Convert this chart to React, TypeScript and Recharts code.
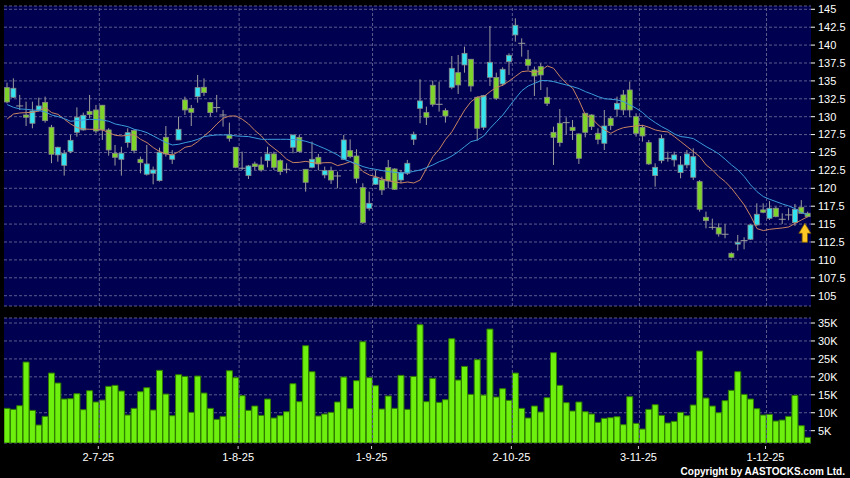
import React from 'react';
import {
  ComposedChart,
  Bar,
  Line,
  XAxis,
  YAxis,
  CartesianGrid,
  ReferenceLine,
  ReferenceDot,
} from 'recharts';

const FONT = '"Liberation Sans", Arial, sans-serif';

// Trading-day index of first session of each labelled month
const monthStartIdx = [15, 37, 58, 80, 100, 120];
const monthLabels = ['2-7-25', '1-8-25', '1-9-25', '2-10-25', '3-11-25', '1-12-25'];

const priceTicks = [105, 107.5, 110, 112.5, 115, 117.5, 120, 122.5, 125, 127.5, 130, 132.5, 135, 137.5, 140, 142.5, 145];
const volTicks = [5, 10, 15, 20, 25, 30, 35];

const openP = [
  134.06, 132.71, 131.5, 130.24, 129.08, 130.94, 132.0, 128.52, 124.66, 123.21,
  125.12, 127.82, 128.15, 130.75, 130.94, 131.6, 128.15, 124.89, 124.05, 126.38,
  128.06, 124.05, 121.96, 122.1, 121.07, 127.12, 124.05, 126.75, 132.34, 131.17,
  132.8, 134.11, 132.0, 131.27, 130.24, 127.45, 125.73, 122.8, 121.77, 123.4,
  123.26, 123.86, 124.8, 123.86, 122.65, 125.73, 127.12, 122.65, 122.93, 124.33,
  121.86, 122.47, 121.72, 124.05, 125.26, 124.51, 120.09, 117.21, 120.56, 121.16,
  122.89, 122.7, 121.16, 122.1, 126.84, 131.17, 130.57, 134.39, 131.73, 130.85,
  134.11, 136.15, 137.23, 138.02, 132.71, 128.52, 135.5, 135.46, 134.57, 137.69,
  141.42, 140.25, 138.02, 136.53, 136.99, 132.71, 127.82, 129.08, 129.17, 128.52,
  127.59, 130.48, 130.24, 127.68, 126.29, 129.78, 131.03, 133.04, 133.73, 130.01,
  128.52, 126.38, 121.77, 123.86, 124.19, 123.96, 122.19, 123.26, 121.54, 120.93,
  115.95, 114.55, 114.5, 113.58, 110.92, 112.2, 112.69, 112.88, 114.88, 116.98,
  115.81, 117.21, 115.67, 116.28, 115.2, 117.35, 116.51,
];
const closeP = [
  132.06, 133.97, 131.5, 129.92, 130.8, 131.5, 129.45, 124.75, 125.73, 124.89,
  126.7, 129.92, 130.2, 130.29, 128.0, 128.15, 125.35, 124.33, 124.89, 127.77,
  125.26, 123.58, 123.4, 122.56, 125.03, 124.8, 124.66, 128.24, 130.94, 130.61,
  134.06, 133.36, 130.57, 131.27, 130.24, 126.98, 122.93, 122.8, 123.12, 123.03,
  122.56, 124.8, 122.93, 122.33, 122.65, 127.45, 125.12, 120.84, 124.05, 123.4,
  122.47, 121.16, 121.72, 126.75, 124.42, 121.4, 115.2, 117.9, 121.49, 119.77,
  121.02, 119.86, 122.23, 123.49, 127.54, 132.2, 129.92, 131.73, 131.73, 130.1,
  136.76, 134.43, 138.85, 134.29, 128.38, 132.94, 137.6, 132.57, 136.62, 138.58,
  142.77, 140.25, 137.18, 135.69, 135.83, 131.87, 127.12, 126.38, 129.17, 128.06,
  124.19, 127.82, 128.61, 126.84, 128.7, 128.75, 131.87, 130.94, 130.94, 127.68,
  127.31, 123.4, 122.93, 126.98, 124.19, 124.66, 123.26, 124.8, 124.42, 117.07,
  115.48, 114.55, 113.62, 113.58, 110.36, 112.45, 112.69, 114.88, 116.37, 116.65,
  117.21, 116.04, 115.67, 116.28, 117.07, 116.51, 116.04,
];
const highP = [
  134.76, 135.36, 133.04, 132.1, 132.1, 132.66, 132.8, 128.85, 125.8, 125.35,
  127.45, 131.3, 130.57, 133.04, 131.64, 131.64, 128.4, 126.05, 125.8, 128.38,
  128.24, 124.42, 126.05, 123.03, 125.68, 128.7, 125.35, 130.01, 132.8, 131.64,
  135.83, 135.36, 132.0, 133.04, 130.94, 129.17, 125.73, 125.12, 123.26, 123.72,
  124.42, 125.8, 125.12, 124.05, 123.49, 127.45, 127.45, 122.65, 126.52, 124.8,
  123.03, 123.03, 122.33, 127.45, 126.84, 125.45, 120.7, 119.53, 122.47, 121.63,
  123.96, 122.8, 122.56, 123.96, 127.91, 135.22, 131.4, 135.04, 134.9, 131.17,
  138.48, 138.62, 139.79, 138.02, 132.8, 133.04, 142.67, 136.15, 136.9, 138.85,
  143.74, 140.95, 139.32, 136.99, 137.46, 134.11, 128.61, 131.08, 129.92, 129.54,
  127.68, 130.48, 130.34, 128.38, 130.94, 130.01, 132.8, 133.73, 134.9, 130.48,
  128.85, 126.75, 123.49, 127.45, 125.12, 125.12, 124.51, 125.35, 125.59, 121.16,
  116.74, 115.76, 115.11, 115.02, 111.06, 113.48, 113.16, 115.02, 117.9, 117.9,
  118.21, 117.44, 116.51, 117.21, 117.81, 118.35, 116.74,
];
const lowP = [
  131.87, 132.6, 130.94, 128.7, 128.38, 130.7, 129.17, 123.5, 123.72, 121.77,
  124.9, 127.2, 128.05, 129.78, 127.68, 126.75, 124.56, 123.17, 121.77, 125.68,
  124.89, 122.1, 121.77, 120.56, 120.93, 124.42, 123.4, 126.75, 130.24, 128.7,
  131.96, 132.9, 130.01, 130.61, 128.61, 126.52, 122.8, 122.56, 121.3, 122.56,
  122.33, 122.93, 122.56, 121.86, 122.1, 124.89, 125.0, 119.53, 122.8, 122.51,
  121.4, 120.6, 120.0, 123.96, 124.19, 120.7, 115.02, 116.88, 120.47, 119.07,
  120.0, 119.77, 120.7, 121.86, 126.05, 129.08, 128.84, 131.4, 130.71, 129.17,
  133.83, 133.17, 136.15, 133.5, 126.66, 128.15, 134.29, 132.34, 134.29, 135.83,
  140.48, 138.39, 136.53, 132.9, 133.73, 131.5, 123.26, 125.82, 127.45, 126.75,
  123.4, 127.12, 128.15, 126.15, 125.35, 128.15, 130.01, 130.24, 129.92, 127.21,
  126.52, 123.26, 120.23, 123.49, 123.72, 123.03, 121.4, 122.8, 121.16, 116.74,
  114.41, 114.22, 113.25, 113.02, 110.22, 111.29, 111.48, 112.78, 114.74, 116.51,
  115.58, 115.95, 115.02, 115.53, 114.74, 116.42, 115.95,
];
const volK = [
  11.22, 10.94, 11.96, 24.13, 10.66, 6.58, 8.99, 21.06, 18.28, 13.82,
  13.91, 15.31, 10.85, 16.14, 12.99, 13.54, 17.35, 17.63, 16.05, 9.36,
  11.22, 15.86, 16.98, 10.76, 21.81, 15.21, 9.18, 20.6, 20.13, 10.11,
  20.23, 15.49, 11.22, 8.16, 8.99, 21.71, 19.76, 14.75, 10.66, 11.87,
  9.27, 13.82, 8.53, 9.18, 10.29, 18.09, 13.08, 28.68, 21.43, 9.09,
  9.64, 10.11, 12.99, 19.95, 11.13, 18.93, 29.79, 19.76, 17.53, 11.04,
  14.66, 11.22, 20.41, 10.94, 20.13, 34.53, 13.08, 19.58, 12.89, 13.64,
  30.63, 19.11, 22.92, 15.12, 24.78, 14.93, 33.32, 14.38, 16.7, 13.45,
  21.06, 11.22, 8.53, 11.87, 10.2, 14.19, 26.73, 17.63, 12.8, 10.48,
  12.99, 10.29, 9.64, 7.32, 8.44, 8.62, 8.9, 6.67, 14.47, 7.04,
  5.46, 10.94, 12.24, 9.27, 7.14, 7.6, 10.11, 9.18, 12.15, 27.19,
  14.1, 11.87, 10.01, 13.36, 16.24, 21.43, 15.12, 13.82, 11.13, 9.36,
  9.55, 7.69, 7.97, 8.99, 14.84, 6.39, 3.14,
];
const maShort = [
  129.68, 130.38, 130.52, 130.57, 130.61, 130.8, 131.27, 130.57, 130.33, 129.64,
  128.98, 128.47, 128.29, 128.24, 128.24, 128.15, 127.77, 127.4, 127.31, 127.4,
  127.5, 126.84, 126.38, 125.68, 125.12, 124.8, 124.66, 125.12, 125.73, 125.91,
  126.52, 127.31, 128.06, 128.98, 129.78, 130.1, 130.1, 129.64, 128.98, 128.06,
  127.31, 126.29, 125.59, 124.89, 124.05, 123.58, 123.63, 123.77, 123.58, 123.49,
  123.58, 123.58, 123.17, 123.4, 123.72, 123.26, 122.33, 121.86, 121.63, 121.3,
  121.07, 120.88, 120.74, 120.88, 120.74, 121.16, 122.79, 124.42, 125.45, 126.84,
  127.91, 129.45, 130.94, 132.1, 132.76, 132.8, 133.5, 134.11, 134.39, 134.99,
  135.64, 136.29, 136.39, 136.15, 136.43, 137.09, 136.76, 135.6, 134.66, 133.97,
  132.24, 130.24, 129.78, 128.85, 128.15, 127.68, 128.15, 128.47, 128.61, 128.71,
  128.8, 128.52, 128.15, 127.96, 127.87, 127.22, 126.52, 125.82, 125.12, 124.42,
  123.26, 122.56, 121.63, 120.93, 120.0, 118.84, 117.67, 116.14, 114.37, 114.09,
  114.27, 114.37, 114.46, 114.6, 115.11, 115.58, 116.04,
];
const maLong = [
  131.69, 131.31, 131.08, 131.03, 130.94, 130.85, 130.66, 130.24, 130.01, 129.73,
  129.36, 129.45, 129.54, 129.64, 129.59, 129.54, 129.36, 128.98, 128.8, 128.61,
  128.24, 128.06, 127.77, 127.31, 126.84, 126.38, 126.05, 126.15, 126.38, 126.56,
  126.84, 127.22, 127.36, 127.45, 127.45, 127.45, 127.31, 127.26, 127.22, 127.03,
  126.84, 126.84, 126.84, 126.84, 126.84, 126.8, 126.75, 126.56, 126.29, 125.91,
  125.54, 125.12, 124.66, 124.05, 123.72, 123.4, 123.03, 122.79, 122.65, 122.47,
  122.33, 122.23, 122.14, 122.19, 122.37, 122.56, 122.89, 123.26, 123.72, 124.05,
  124.52, 125.12, 125.82, 126.52, 126.75, 127.31, 128.38, 129.31, 130.24, 131.41,
  132.57, 133.64, 134.29, 134.66, 135.04, 135.04, 134.9, 134.66, 134.43, 134.2,
  133.92, 133.5, 133.17, 132.8, 132.52, 132.43, 132.34, 132.1, 131.64, 131.17,
  130.57, 129.78, 129.17, 128.61, 128.15, 127.59, 127.22, 127.12, 126.94, 126.38,
  125.82, 125.35, 124.8, 124.05, 123.26, 122.56, 121.63, 120.47, 119.53, 118.84,
  118.46, 118.14, 117.81, 117.53, 117.16, 116.6, 116.28,
];

const N = openP.length;
const lastIdx = N - 1;
const gridX = monthStartIdx.map((v) => v - 0.5);

const data = openP.map((o, i) => ({
  i,
  open: o,
  close: closeP[i],
  high: highP[i],
  low: lowP[i],
  range: [lowP[i], highP[i]],
  vol: volK[i],
  maShort: maShort[i],
  maLong: maLong[i],
}));

const BG = '#000050';
const GRID = '#5c5c8e';
const UP = '#33E4F0';
const DOWN = '#7ED42A';
const WICK = '#9c9c9c';

const Candle = (props: any) => {
  const { x, y, width, height, payload } = props;
  if (x == null || y == null || !payload) return null;
  const { open, close, high, low } = payload;
  const cx = x + width / 2;
  const yTop = Math.min(y, y + height);
  const yBot = Math.max(y, y + height);
  const toY = (v: number) =>
    high === low ? yTop : yTop + ((high - v) / (high - low)) * (yBot - yTop);
  const yO = toY(open);
  const yC = toY(close);
  const bTop = Math.min(yO, yC);
  const bBot = Math.max(yO, yC);
  const isDoji = Math.abs(close - open) < 0.001;
  return (
    <g>
      <line x1={cx} x2={cx} y1={yTop} y2={yBot} stroke={WICK} strokeWidth={1} />
      {isDoji ? (
        <line x1={cx - 3.5} x2={cx + 3.5} y1={bTop} y2={bTop} stroke={WICK} strokeWidth={1} />
      ) : (
        <rect
          x={cx - 2.5}
          y={bTop}
          width={5}
          height={Math.max(1, bBot - bTop)}
          fill={close > open ? UP : DOWN}
          stroke="#8a8a8a"
          strokeWidth={0.8}
        />
      )}
    </g>
  );
};

const Arrow = (p: any) => {
  const { cx, cy } = p;
  if (cx == null || cy == null) return null;
  const ax = cx - 3;
  const t = cy + 6;
  const pts = [
    [ax, t],
    [ax + 6, t + 10],
    [ax + 2.7, t + 10],
    [ax + 2.7, t + 19],
    [ax - 2.7, t + 19],
    [ax - 2.7, t + 10],
    [ax - 6, t + 10],
  ]
    .map((q) => q.join(','))
    .join(' ');
  return <polygon points={pts} fill="#FFC825" stroke="#7a5a00" strokeWidth={0.8} />;
};

const XTick = (props: any) => {
  const { x, y, payload } = props;
  const k = gridX.indexOf(payload.value);
  const label = k >= 0 ? monthLabels[k] : '';
  return (
    <g>
      <line x1={x - 1} x2={x - 1} y1={y + 3} y2={y + 6} stroke="#cccccc" strokeWidth={1} />
      <text x={x - 1} y={y + 18} textAnchor="middle" fill="#ffffff" fontSize={11} fontFamily={FONT}>
        {label}
      </text>
    </g>
  );
};

const yTickStyle = { fill: '#ffffff', fontSize: 11, fontFamily: FONT };

export default function App() {
  return (
    <div
      style={{
        position: 'fixed',
        left: 0,
        top: 0,
        width: 850,
        height: 478,
        background: '#000000',
        overflow: 'hidden',
      }}
    >
      <div style={{ position: 'absolute', left: 0, top: 0 }}>
        <ComposedChart width={850} height={310} data={data} margin={{ top: 6, right: 0, bottom: 4, left: 4 }}>
          <CartesianGrid vertical={false} stroke={GRID} strokeDasharray="3 2" fill={BG} fillOpacity={1} />
          <XAxis type="number" dataKey="i" domain={[-0.5, N - 0.5]} hide allowDataOverflow />
          <YAxis
            orientation="right"
            domain={[103.56, 145.46]}
            ticks={priceTicks}
            interval={0}
            allowDataOverflow
            width={39}
            axisLine={false}
            tickLine={{ stroke: '#ffffff' }}
            tickSize={4}
            tickMargin={3}
            tick={yTickStyle}
          />
          {gridX.map((v) => (
            <ReferenceLine key={v} x={v} stroke={GRID} strokeDasharray="3 2" />
          ))}
          <Bar dataKey="range" shape={Candle} barSize={6} isAnimationActive={false} />
          <Line dataKey="maShort" stroke="#C98461" strokeWidth={1} dot={false} isAnimationActive={false} />
          <Line dataKey="maLong" stroke="#3A9CDB" strokeWidth={1} dot={false} isAnimationActive={false} />
          <ReferenceDot x={lastIdx} y={lowP[lastIdx]} r={0} shape={(p: any) => <Arrow {...p} />} />
        </ComposedChart>
      </div>
      <div style={{ position: 'absolute', left: 0, top: 310 }}>
        <ComposedChart width={850} height={168} data={data} margin={{ top: 8, right: 0, bottom: 10, left: 4 }}>
          <CartesianGrid vertical={false} stroke={GRID} strokeDasharray="3 2" fill={BG} fillOpacity={1} />
          <XAxis
            type="number"
            dataKey="i"
            domain={[-0.5, N - 0.5]}
            allowDataOverflow
            ticks={gridX}
            interval={0}
            tick={(p: any) => <XTick {...p} />}
            tickLine={false}
            axisLine={false}
            tickSize={0}
            tickMargin={0}
            height={25}
          />
          <YAxis
            orientation="right"
            domain={[1.57, 36.4]}
            ticks={volTicks}
            interval={0}
            allowDataOverflow
            width={39}
            axisLine={false}
            tickLine={{ stroke: '#ffffff' }}
            tickSize={4}
            tickMargin={3}
            tick={yTickStyle}
            tickFormatter={(v: number) => `${v}K`}
          />
          {gridX.map((v) => (
            <ReferenceLine key={v} x={v} stroke={GRID} strokeDasharray="3 2" />
          ))}
          <Bar dataKey="vol" fill="#6EF00E" stroke="#2E7A00" strokeWidth={1} barSize={6} isAnimationActive={false} />
        </ComposedChart>
      </div>
      <div
        style={{
          position: 'absolute',
          left: 0,
          top: 467,
          width: 845,
          textAlign: 'right',
          color: '#ffffff',
          fontFamily: FONT,
          fontWeight: 'bold',
          fontSize: 10,
          lineHeight: '10px',
          whiteSpace: 'nowrap',
        }}
      >
        Copyright by AASTOCKS.com Ltd.
      </div>
    </div>
  );
}
